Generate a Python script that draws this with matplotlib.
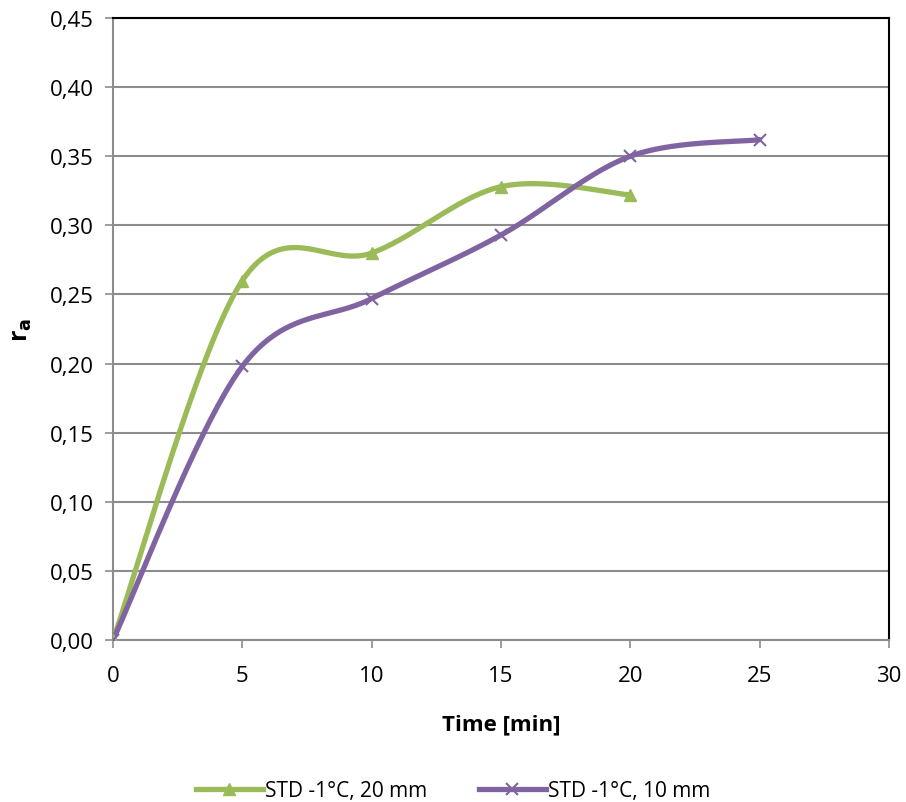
import numpy as np
import matplotlib.pyplot as plt
from matplotlib.lines import Line2D

plt.rcParams['font.family'] = ['Open Sans', 'DejaVu Sans']

# data
time_20 = [0, 5, 10, 15, 20]
ra_20 = [0.0, 0.26, 0.28, 0.328, 0.322]
time_10 = [0, 5, 10, 15, 20, 25]
ra_10 = [0.0, 0.198, 0.247, 0.293, 0.35, 0.362]

label_20 = 'STD -1°C, 20 mm'
label_10 = 'STD -1°C, 10 mm'
green = '#9BBB59'
purple = '#8064A2'


def smooth(x, y, n=40):
    # Excel-style smoothed line (Catmull-Rom bezier through the points)
    x = np.asarray(x, float)
    y = np.asarray(y, float)
    px = np.concatenate([[x[0]], x, [x[-1]]])
    py = np.concatenate([[y[0]], y, [y[-1]]])
    xs, ys = [], []
    for i in range(1, len(px) - 2):
        p0 = np.array([px[i], py[i]])
        p3 = np.array([px[i + 1], py[i + 1]])
        c1 = p0 + (np.array([px[i + 1], py[i + 1]]) - np.array([px[i - 1], py[i - 1]])) / 6
        c2 = p3 - (np.array([px[i + 2], py[i + 2]]) - np.array([px[i], py[i]])) / 6
        t = np.linspace(0, 1, n)[:, None]
        b = (1 - t) ** 3 * p0 + 3 * (1 - t) ** 2 * t * c1 + 3 * (1 - t) * t ** 2 * c2 + t ** 3 * p3
        xs.extend(b[:, 0])
        ys.extend(b[:, 1])
    return xs, ys


fig = plt.figure(figsize=(9.06, 8.03), dpi=100)
ax = fig.add_axes([0.1247, 0.2017, 0.8565, 0.7746])

sx, sy = smooth(time_20, ra_20)
ax.plot(sx, sy, color=green, lw=3.8, solid_capstyle='round', zorder=3)
ax.plot(time_20, ra_20, ls='none', marker='^', ms=8, color=green, zorder=4)

sx, sy = smooth(time_10, ra_10)
ax.plot(sx, sy, color=purple, lw=3.8, solid_capstyle='round', zorder=3)
ax.plot(time_10, ra_10, ls='none', marker='x', ms=8, mew=1.5, color=purple, zorder=4)

ax.set_xlim(0, 30)
ax.set_ylim(0, 0.45)
ax.set_xticks(range(0, 31, 5))
yt = np.arange(0, 0.451, 0.05)
ax.set_yticks(yt)
ax.set_yticklabels([f'{v:.2f}'.replace('.', ',') for v in yt])
ax.yaxis.grid(True, color='#8c8c8c', lw=1.5)
ax.set_axisbelow(True)

for s in ['left', 'bottom']:
    ax.spines[s].set_color('#8c8c8c')
    ax.spines[s].set_linewidth(1.5)
for s in ['top', 'right']:
    ax.spines[s].set_color('black')
    ax.spines[s].set_linewidth(1.5)
ax.tick_params(direction='out', color='#8c8c8c', width=1.2, length=6, labelsize=16)
ax.tick_params(axis='x', pad=12)
ax.tick_params(axis='y', pad=8)

ax.set_xlabel('Time [min]', fontsize=16, fontweight='bold', labelpad=20)
ax.set_ylabel('r$_\\mathbf{a}$', fontsize=18, fontweight='bold', labelpad=11)

handles = [
    Line2D([], [], color=green, lw=3.8, marker='^', ms=8),
    Line2D([], [], color=purple, lw=3.8, marker='x', ms=8, mew=1.5),
]
fig.legend(handles, [label_20, label_10], loc='lower center', bbox_to_anchor=(0.5, -0.022),
           ncol=2, frameon=False, fontsize=15, handlelength=3.2, handletextpad=0.1,
           columnspacing=2.5)

fig.savefig('out.png', dpi=100)
